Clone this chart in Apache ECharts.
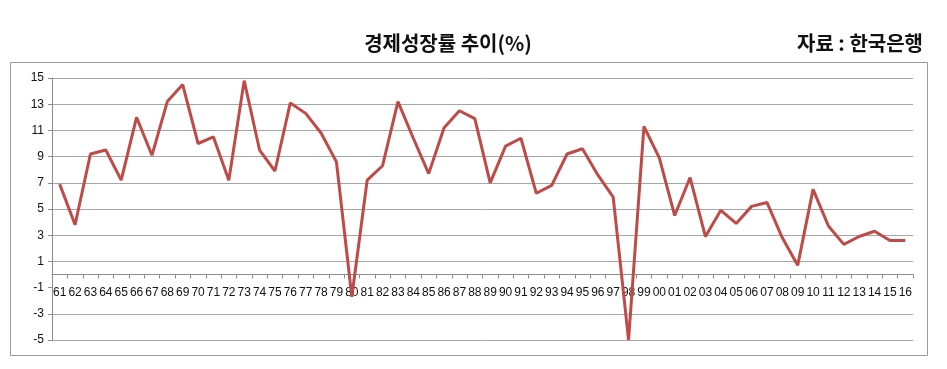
<!DOCTYPE html>
<html>
<head>
<meta charset="utf-8">
<script src="https://cdn.jsdelivr.net/npm/echarts@6/dist/echarts.min.js"></script>
<style>
html,body{margin:0;padding:0;background:#fff;}
#chart{width:947px;height:369px;}
</style>
</head>
<body>
<div id="chart"></div>
<script>
const years = ['61','62','63','64','65','66','67','68','69','70','71','72','73','74','75','76','77','78','79','80',
  '81','82','83','84','85','86','87','88','89','90','91','92','93','94','95','96','97','98','99','00',
  '01','02','03','04','05','06','07','08','09','10','11','12','13','14','15','16'];
const growth = [6.9,3.8,9.2,9.5,7.2,12.0,9.1,13.2,14.5,10.0,10.5,7.2,14.8,9.5,7.9,13.1,12.3,10.8,8.6,-1.7,
  7.2,8.3,13.2,10.4,7.7,11.2,12.5,11.9,7.0,9.8,10.4,6.2,6.8,9.2,9.6,7.6,5.9,-5.0,11.3,8.9,
  4.5,7.4,2.9,4.9,3.9,5.2,5.5,2.8,0.7,6.5,3.7,2.3,2.9,3.3,2.6,2.6];
const titleText = '경제성장률 추이(%)';
const sourceText = '자료 : 한국은행';

const chart = echarts.init(document.getElementById('chart'));
const gridColor = '#a6a6a6';
chart.setOption({
  animation: false,
  backgroundColor: '#fff',
  title: [
    {text: titleText, left: 443, top: 28, textAlign: 'center',
     textStyle: {fontFamily: 'Noto Sans CJK KR', fontSize: 20, fontWeight: 'bold', color: '#111'}},
    {text: sourceText, right: 19, top: 28,
     textStyle: {fontFamily: 'Noto Sans CJK KR', fontSize: 20, fontWeight: 'bold', color: '#111'}}
  ],
  graphic: [
    {type: 'rect', shape: {x: 10.5, y: 62.5, width: 917, height: 293}, silent: true, z: -1,
     style: {fill: 'none', stroke: '#9a9a9a', lineWidth: 1}}
  ],
  grid: {left: 52, right: 34, top: 78, bottom: 29, containLabel: false},
  xAxis: {
    type: 'category',
    data: years,
    boundaryGap: true,
    position: 'bottom',
    offset: -65.5,
    axisLine: {show: true, onZero: false, lineStyle: {color: '#8c8c8c', width: 1}},
    axisTick: {show: true, length: 4, lineStyle: {color: '#8c8c8c'}},
    axisLabel: {interval: 0, margin: 12, fontFamily: 'Liberation Sans', fontSize: 12, color: '#111'},
    splitLine: {show: false}
  },
  yAxis: {
    type: 'value',
    min: -5, max: 15, interval: 2,
    axisLine: {show: true, lineStyle: {color: '#8c8c8c', width: 1}},
    axisTick: {show: true, length: 4, lineStyle: {color: '#8c8c8c'}},
    axisLabel: {margin: 8, fontFamily: 'Liberation Sans', fontSize: 12, color: '#111'},
    splitLine: {show: true, lineStyle: {color: [gridColor, gridColor, 'rgba(0,0,0,0)', gridColor, gridColor, gridColor, gridColor, gridColor, gridColor, gridColor, gridColor], width: 1}}
  },
  series: [{
    type: 'line',
    data: growth,
    symbol: 'none',
    lineStyle: {color: '#BE4B48', width: 3},
    itemStyle: {color: '#BE4B48'},
    clip: false
  }]
});
</script>
</body>
</html>
